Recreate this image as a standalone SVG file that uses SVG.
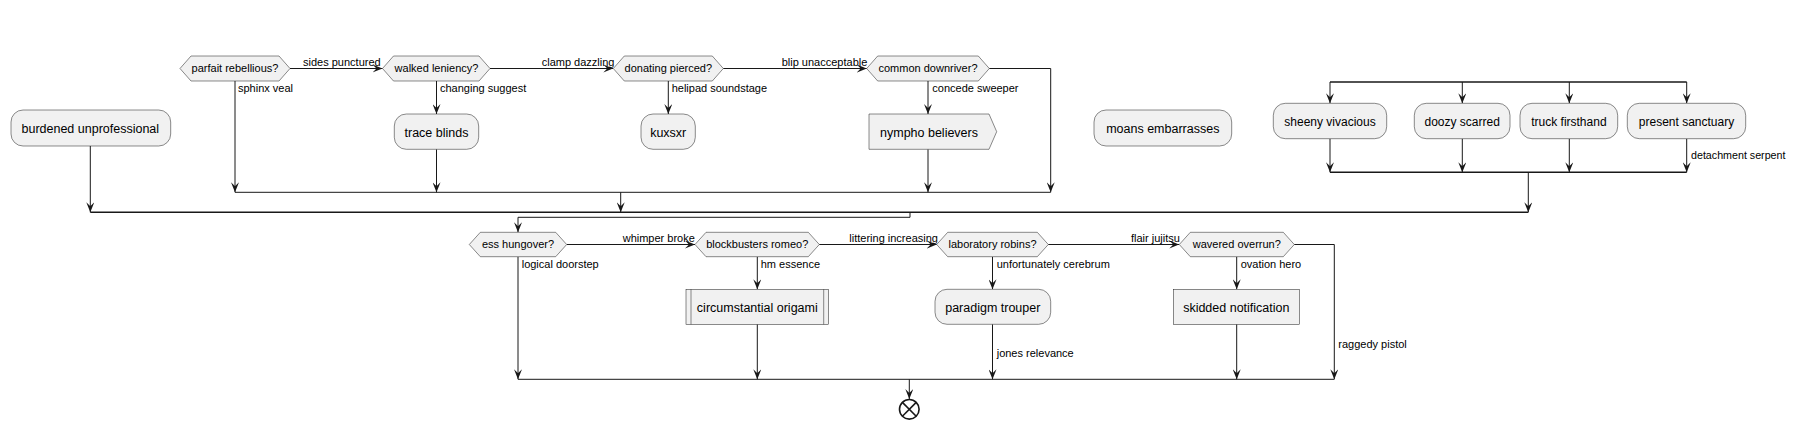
<svg xmlns="http://www.w3.org/2000/svg" width="1797" height="429" viewBox="0 0 1797 429">
<defs>
<marker id="arr" viewBox="0 0 10 8" refX="10" refY="4" markerWidth="10" markerHeight="8" orient="auto" markerUnits="userSpaceOnUse">
<path d="M0,0 L10,4 L0,8 L4,4 Z" fill="#181818"/>
</marker>
<style>
.box{fill:#F1F1F1;stroke:#181818;stroke-width:0.5}
.t{font-family:"Liberation Sans",Arial,sans-serif;font-size:12.5px;fill:#000;text-anchor:middle}
.f{font-family:"Liberation Sans",Arial,sans-serif;font-size:12px;fill:#000;text-anchor:middle}
.h{font-family:"Liberation Sans",Arial,sans-serif;font-size:11px;fill:#000;text-anchor:middle}
.l{font-family:"Liberation Sans",Arial,sans-serif;font-size:11px;fill:#000}
.s{font-family:"Liberation Sans",Arial,sans-serif;font-size:10.7px;fill:#000}
.c{fill:none;stroke:#181818;stroke-width:1}
.a{fill:none;stroke:#181818;stroke-width:1;marker-end:url(#arr)}
.bar{fill:none;stroke:#181818;stroke-width:1.5}
</style>
</defs>
<rect width="1797" height="429" fill="#FFFFFF"/>
<g id="connectors">
<line class="a" x1="290" y1="68.5" x2="382.5" y2="68.5"/>
<line class="a" x1="490" y1="68.5" x2="613.3" y2="68.5"/>
<line class="a" x1="723.3" y1="68.5" x2="866.7" y2="68.5"/>
<line class="a" x1="235" y1="81" x2="235" y2="192.3"/>
<line class="a" x1="436.5" y1="81" x2="436.5" y2="114"/>
<line class="a" x1="436.5" y1="149.3" x2="436.5" y2="192.3"/>
<line class="a" x1="668.3" y1="81" x2="668.3" y2="114"/>
<line class="a" x1="928" y1="81" x2="928" y2="114"/>
<line class="a" x1="928" y1="149.3" x2="928" y2="192.3"/>
<polyline class="a" points="989.3,68.5 1050.7,68.5 1050.7,192.3"/>
<line class="c" x1="235" y1="192.3" x2="1050.7" y2="192.3"/>
<line class="a" x1="620.7" y1="192.3" x2="620.7" y2="212.3"/>
<line class="a" x1="90.3" y1="146" x2="90.3" y2="212.3"/>
<line class="bar" x1="1330" y1="82" x2="1686.7" y2="82"/>
<line class="a" x1="1330" y1="82" x2="1330" y2="103.3"/>
<line class="a" x1="1462.3" y1="82" x2="1462.3" y2="103.3"/>
<line class="a" x1="1569.3" y1="82" x2="1569.3" y2="103.3"/>
<line class="a" x1="1686.7" y1="82" x2="1686.7" y2="103.3"/>
<line class="a" x1="1330" y1="138.7" x2="1330" y2="172.3"/>
<line class="a" x1="1462.3" y1="138.7" x2="1462.3" y2="172.3"/>
<line class="a" x1="1569.3" y1="138.7" x2="1569.3" y2="172.3"/>
<line class="a" x1="1686.7" y1="138.7" x2="1686.7" y2="172.3"/>
<line class="bar" x1="1330" y1="172.3" x2="1686.7" y2="172.3"/>
<line class="a" x1="1528.3" y1="172.3" x2="1528.3" y2="212.3"/>
<line class="bar" x1="90.3" y1="212.3" x2="1528.3" y2="212.3"/>
<polyline class="a" points="910,212.3 910,217.3 518,217.3 518,232.3"/>
<line class="a" x1="566.7" y1="244.5" x2="695" y2="244.5"/>
<line class="a" x1="819.3" y1="244.5" x2="936.7" y2="244.5"/>
<line class="a" x1="1048.3" y1="244.5" x2="1179.3" y2="244.5"/>
<line class="a" x1="518" y1="256.7" x2="518" y2="379.3"/>
<line class="a" x1="757.3" y1="256.7" x2="757.3" y2="289.3"/>
<line class="a" x1="757.3" y1="324.3" x2="757.3" y2="379.3"/>
<line class="a" x1="992.5" y1="256.7" x2="992.5" y2="289.3"/>
<line class="a" x1="992.5" y1="324.3" x2="992.5" y2="379.3"/>
<line class="a" x1="1236.7" y1="256.7" x2="1236.7" y2="289.3"/>
<line class="a" x1="1236.7" y1="324.3" x2="1236.7" y2="379.3"/>
<polyline class="a" points="1294.3,244.5 1334.3,244.5 1334.3,379.3"/>
<line class="c" x1="518" y1="379.3" x2="1334.3" y2="379.3"/>
<line class="a" x1="909.3" y1="379.3" x2="909.3" y2="399"/>
<text class="l" x="303" y="65.5">sides punctured</text>
<text class="l" x="541.7" y="65.5">clamp dazzling</text>
<text class="l" x="781.7" y="65.5">blip unacceptable</text>
<text class="l" x="238" y="91.7">sphinx veal</text>
<text class="l" x="440" y="91.7">changing suggest</text>
<text class="l" x="671.7" y="91.7">helipad soundstage</text>
<text class="l" x="932.3" y="91.7">concede sweeper</text>
<text class="s" x="1691" y="159.3">detachment serpent</text>
<text class="l" x="622.7" y="241.7">whimper broke</text>
<text class="l" x="849.3" y="241.7">littering increasing</text>
<text class="l" x="1131" y="241.7">flair jujitsu</text>
<text class="l" x="521.7" y="267.7">logical doorstep</text>
<text class="l" x="760.7" y="267.7">hm essence</text>
<text class="l" x="996.7" y="267.7">unfortunately cerebrum</text>
<text class="l" x="1240.7" y="267.7">ovation hero</text>
<text class="l" x="996.7" y="357.3">jones relevance</text>
<text class="l" x="1338.3" y="347.7">raggedy pistol</text>
</g>
<g id="burdened">
<rect class="box" x="11" y="110" width="159.7" height="36" rx="12"/>
<text class="t" x="90.3" y="133.3">burdened unprofessional</text>
</g>
<g id="parfait">
<polygon class="box" points="180,68.5 191,56 279,56 290,68.5 279,81 191,81"/>
<text class="h" x="235" y="72.3">parfait rebellious?</text>
</g>
<g id="walked">
<polygon class="box" points="382.5,68.5 393.5,56 479,56 490,68.5 479,81 393.5,81"/>
<text class="h" x="436.5" y="72.3">walked leniency?</text>
</g>
<g id="trace">
<rect class="box" x="394.3" y="114" width="84.4" height="35.3" rx="12"/>
<text class="t" x="436.5" y="136.7">trace blinds</text>
</g>
<g id="donating">
<polygon class="box" points="613.3,68.5 624.3,56 712.3,56 723.3,68.5 712.3,81 624.3,81"/>
<text class="h" x="668.3" y="72.3">donating pierced?</text>
</g>
<g id="kuxsxr">
<rect class="box" x="641" y="114" width="54.3" height="35.3" rx="12"/>
<text class="t" x="668.2" y="136.7">kuxsxr</text>
</g>
<g id="common">
<polygon class="box" points="866.7,68.5 877.7,56 978.3,56 989.3,68.5 978.3,81 877.7,81"/>
<text class="h" x="928" y="72.3">common downriver?</text>
</g>
<g id="nympho">
<polygon class="box" points="869,114 989,114 996.7,131.7 989,149.3 869,149.3"/>
<text class="t" x="929" y="136.7">nympho believers</text>
</g>
<g id="moans">
<rect class="box" x="1094" y="110" width="137.7" height="36" rx="12"/>
<text class="t" x="1162.8" y="133.3">moans embarrasses</text>
</g>
<g id="sheeny">
<rect class="box" x="1273.3" y="103.3" width="113.4" height="35.4" rx="12"/>
<text class="f" x="1330" y="125.5">sheeny vivacious</text>
</g>
<g id="doozy">
<rect class="box" x="1414.3" y="103.3" width="95.7" height="35.4" rx="12"/>
<text class="f" x="1462.2" y="125.5">doozy scarred</text>
</g>
<g id="truck">
<rect class="box" x="1520" y="103.3" width="97.7" height="35.4" rx="12"/>
<text class="f" x="1568.9" y="125.5">truck firsthand</text>
</g>
<g id="present">
<rect class="box" x="1627.3" y="103.3" width="118.4" height="35.4" rx="12"/>
<text class="f" x="1686.5" y="125.5">present sanctuary</text>
</g>
<g id="ess">
<polygon class="box" points="469.3,244.5 480.3,232.3 555.7,232.3 566.7,244.5 555.7,256.7 480.3,256.7"/>
<text class="h" x="518" y="248.3">ess hungover?</text>
</g>
<g id="blockbusters">
<polygon class="box" points="695,244.5 706,232.3 808.3,232.3 819.3,244.5 808.3,256.7 706,256.7"/>
<text class="h" x="757.2" y="248.3">blockbusters romeo?</text>
</g>
<g id="circumstantial">
<rect class="box" x="686" y="289.3" width="142.7" height="35"/>
<line class="box" x1="691" y1="289.3" x2="691" y2="324.3"/>
<line class="box" x1="823.7" y1="289.3" x2="823.7" y2="324.3"/>
<text class="t" x="757.3" y="311.7">circumstantial origami</text>
</g>
<g id="laboratory">
<polygon class="box" points="936.7,244.5 947.7,232.3 1037.3,232.3 1048.3,244.5 1037.3,256.7 947.7,256.7"/>
<text class="h" x="992.5" y="248.3">laboratory robins?</text>
</g>
<g id="paradigm">
<rect class="box" x="935" y="289.3" width="115.7" height="35" rx="12"/>
<text class="t" x="992.8" y="311.7">paradigm trouper</text>
</g>
<g id="wavered">
<polygon class="box" points="1179.3,244.5 1190.3,232.3 1283.3,232.3 1294.3,244.5 1283.3,256.7 1190.3,256.7"/>
<text class="h" x="1236.8" y="248.3">wavered overrun?</text>
</g>
<g id="skidded">
<rect class="box" x="1173.3" y="289.3" width="126" height="35"/>
<text class="t" x="1236.3" y="311.7">skidded notification</text>
</g>
<g id="end">
<circle cx="909.3" cy="409.3" r="9.8" fill="#FFFFFF" stroke="#181818" stroke-width="1.6"/>
<line x1="902.4" y1="402.4" x2="916.2" y2="416.2" stroke="#181818" stroke-width="1.6"/>
<line x1="916.2" y1="402.4" x2="902.4" y2="416.2" stroke="#181818" stroke-width="1.6"/>
</g>
</svg>
